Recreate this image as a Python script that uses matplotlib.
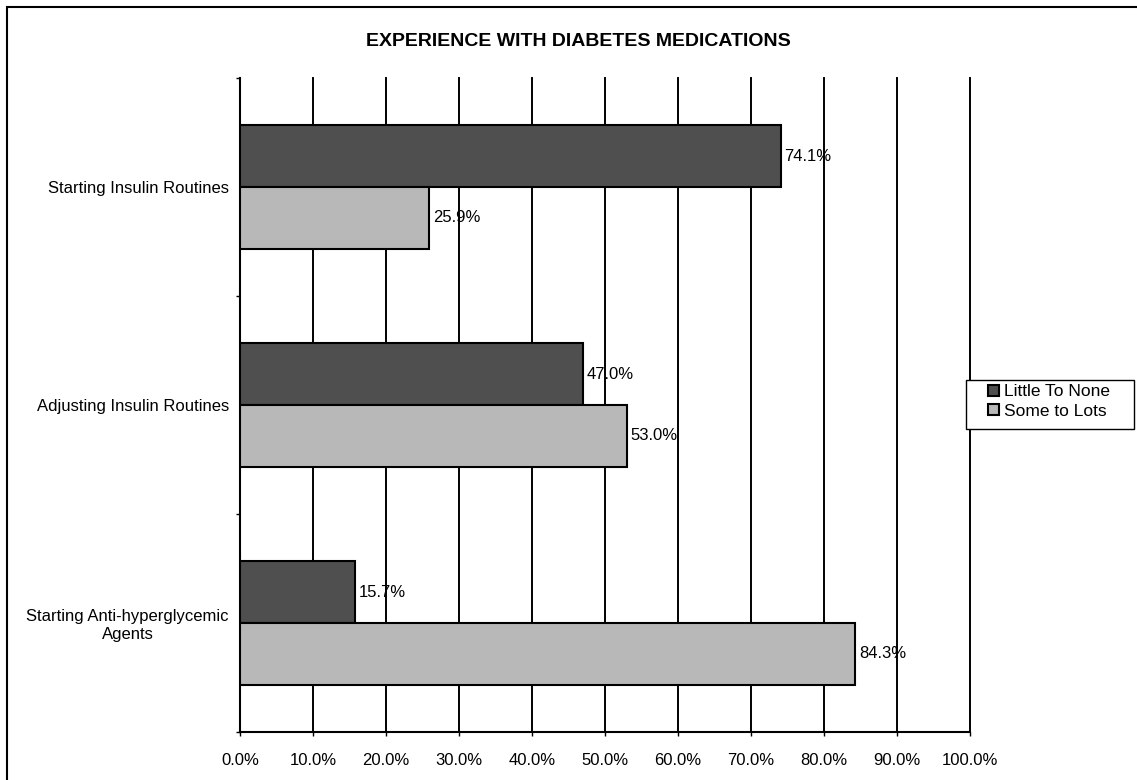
import matplotlib
matplotlib.use("Agg")
import matplotlib.pyplot as plt
import numpy as np
from matplotlib.patches import Rectangle

categories = ["Starting Insulin Routines", "Adjusting Insulin Routines",
              "Starting Anti-hyperglycemic\nAgents"]
series_names = ["Little To None", "Some to Lots"]
little_to_none = [74.1, 47.0, 15.7]
some_to_lots = [25.9, 53.0, 84.3]
x_ticks = [0, 10, 20, 30, 40, 50, 60, 70, 80, 90, 100]

plt.rcParams["font.family"] = ["Liberation Sans", "DejaVu Sans"]

W, H = 1137, 780
fig = plt.figure(figsize=(W / 100, H / 100), dpi=100)
ax = fig.add_axes([240 / W, 1 - 732 / H, 730 / W, 654 / H])

pos = np.arange(len(categories))
bar_h = 0.284
colors = ["#4f4f4f", "#b8b8b8"]

for i, (vals, name, col) in enumerate(zip([little_to_none, some_to_lots], series_names, colors)):
    offset = -bar_h / 2 if i == 0 else bar_h / 2
    ax.barh(pos + offset, vals, height=bar_h, color=col, edgecolor="black",
            linewidth=1.5, label=name, zorder=3)
    for p, v in zip(pos, vals):
        ax.text(v + 0.5, p + offset, f"{v:.1f}%", va="center", ha="left",
                fontsize=12, zorder=4)

ax.set_xlim(0, 100)
ax.set_ylim(len(categories) - 0.5, -0.5)
ax.set_xticks(x_ticks)
ax.set_xticklabels([f"{t:.1f}%" for t in x_ticks], fontsize=12)
ax.set_yticks(pos)
ax.set_yticklabels(categories, fontsize=12, multialignment="center")
ax.set_yticks(np.arange(-0.5, len(categories)), minor=True)
ax.tick_params(axis="y", which="major", length=0, pad=8)
ax.tick_params(axis="y", which="minor", length=3, width=1)
ax.tick_params(axis="x", which="major", length=3, width=1, pad=12)
ax.grid(axis="x", color="black", linewidth=1.4, zorder=0)
ax.set_axisbelow(True)
for gl in ax.get_xgridlines():
    gl.set_clip_on(False)
for side in ["top", "right"]:
    ax.spines[side].set_visible(False)
ax.spines["left"].set_linewidth(1.5)
ax.spines["bottom"].set_linewidth(1.5)

fig.text(578 / W, 1 - 42 / H, "EXPERIENCE WITH DIABETES MEDICATIONS",
         ha="center", va="center", fontsize=14, fontweight="bold")

# legend entries without their own frame; box drawn separately
leg = fig.legend(loc="upper left", bbox_to_anchor=(985 / W, 1 - 381 / H),
                 frameon=False, fontsize=12.5,
                 handlelength=0.6, handleheight=0.6, handletextpad=0.3,
                 borderpad=0.2, labelspacing=0.25, borderaxespad=0)
fig.patches.append(Rectangle((966 / W, 1 - 429 / H), 168 / W, 49 / H,
                             transform=fig.transFigure, fill=True,
                             facecolor="white", edgecolor="black",
                             linewidth=1, zorder=0))

# outer chart border (left and top edges visible)
fig.patches.append(Rectangle((7 / W, -0.05), 1.2, 1 - 7 / H + 0.05,
                             transform=fig.transFigure, fill=False,
                             edgecolor="black", linewidth=1.5))

fig.savefig("out.png", dpi=100)
